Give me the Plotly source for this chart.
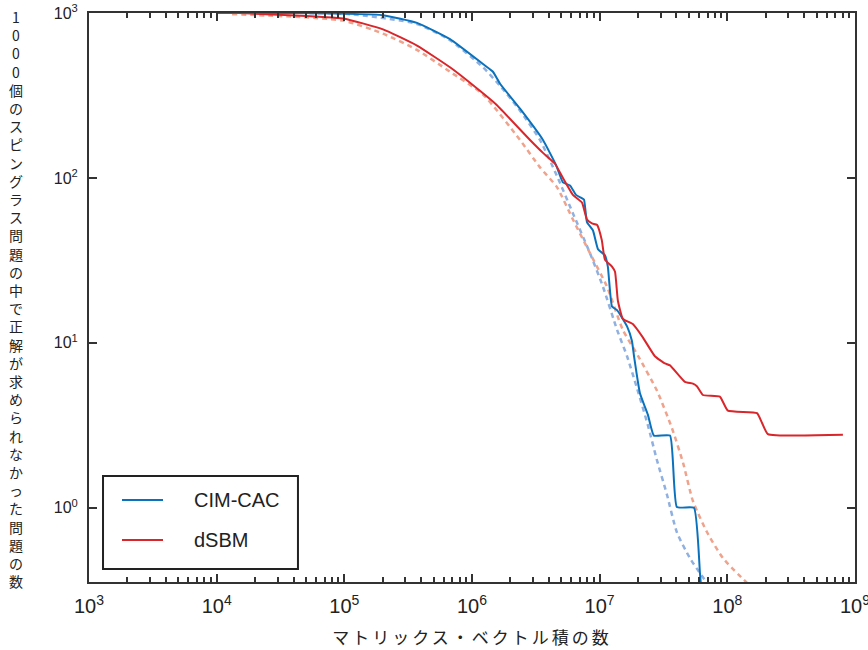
import plotly.graph_objects as go

# ---- data ----
cim_x = [1.0e4, 4.74e4, 2.01e5, 3.71e5, 6.73e5, 1.22e6, 1.46e6, 1.66e6, 2.38e6, 3.60e6,
         4.55e6, 5.16e6, 5.86e6, 6.53e6, 7.14e6, 7.54e6, 7.96e6, 8.87e6, 9.71e6, 1.10e7,
         1.16e7, 1.25e7, 1.37e7, 1.64e7, 1.79e7, 1.86e7, 2.07e7, 2.39e7, 2.66e7, 3.56e7,
         4.03e7, 5.48e7, 6.11e7, 6.30e7]
cim_y = [1000, 1000, 970, 872, 695, 491, 441, 373, 263, 170,
         120, 94, 90, 79, 76, 74, 54, 48, 37, 34,
         29, 16.6, 15.8, 12.6, 10.3, 8.3, 4.95, 3.66, 2.74, 2.74,
         1.01, 1.0, 0.40, 0.30]

sbm_x = [1.0e4, 1.47e4, 9.77e4, 2.01e5, 3.71e5, 6.73e5, 1.22e6, 1.57e6, 2.85e6, 3.60e6,
         4.47e6, 5.16e6, 6.18e6, 7.27e6, 7.96e6, 8.71e6, 9.53e6, 1.04e7, 1.10e7, 1.25e7,
         1.32e7, 1.39e7, 1.52e7, 1.82e7, 2.18e7, 2.71e7, 3.25e7, 3.56e7, 4.66e7, 5.38e7,
         5.78e7, 6.44e7, 8.75e7, 1.01e8, 1.71e8, 1.87e8, 2.08e8, 8.05e8]
sbm_y = [1000, 1000, 927, 797, 635, 469, 326, 276, 170, 142,
         122, 100, 79, 71, 56, 53, 52, 42, 32, 29,
         27, 18, 14, 13, 10.8, 8.3, 7.5, 7.3, 5.8, 5.66,
         5.46, 4.83, 4.72, 3.88, 3.75, 3.28, 2.80, 2.77]

cim_fit_x = [4.5e4, 1.11e5, 3.71e5, 6.73e5, 1.22e6, 1.66e6, 2.38e6, 3.41e6, 4.63e6, 6.18e6,
             8.40e6, 1.06e7, 1.37e7, 1.64e7, 1.96e7, 2.39e7, 2.81e7, 3.37e7, 4.03e7, 5.10e7,
             6.93e7]
cim_fit_y = [1000, 985, 859, 685, 469, 362, 256, 170, 103, 61,
             35, 22, 12.0, 8.3, 5.33, 3.16, 1.95, 1.20, 0.71, 0.495,
             0.35]

sbm_fit_x = [1.32e4, 9.77e4, 2.01e5, 3.71e5, 6.73e5, 1.22e6, 2.38e6, 3.41e6, 4.63e6, 6.18e6,
             8.40e6, 1.14e7, 1.52e7, 2.00e7, 2.81e7, 3.68e7, 4.50e7, 5.38e7, 6.93e7, 9.25e7,
             1.43e8]
sbm_fit_y = [985, 900, 750, 598, 441, 321, 170, 116, 88, 56,
             35, 22, 12.0, 8.34, 5.14, 3.05, 1.88, 1.10, 0.713, 0.495,
             0.35]

names = ["CIM-CAC", "dSBM"]
x_title = "マトリックス・ベクトル積の数"
y_title = "1000個のスピングラス問題の中で正解が求められなかった問題の数"
y_tickvals = [1, 10, 100, 1000]
y_ticktext = ["10<sup>0</sup>", "10<sup>1</sup>", "10<sup>2</sup>", "10<sup>3</sup>"]

BLUE = "#0a72bd"
RED = "#d9262b"
BLUE_L = "#8fb0e0"
RED_L = "#f0a38c"
INK = "#222222"

fig = go.Figure()
fig.add_trace(go.Scatter(x=cim_fit_x, y=cim_fit_y, mode="lines", showlegend=False,
                         line=dict(color=BLUE_L, width=2.5, dash="5px,4px", shape="spline", smoothing=0.6)))
fig.add_trace(go.Scatter(x=sbm_fit_x, y=sbm_fit_y, mode="lines", showlegend=False,
                         line=dict(color=RED_L, width=2.5, dash="5px,4px", shape="spline", smoothing=0.6)))
fig.add_trace(go.Scatter(x=cim_x, y=cim_y, mode="lines", name=names[0], showlegend=False,
                         line=dict(color=BLUE, width=2, shape="spline", smoothing=0.4)))
fig.add_trace(go.Scatter(x=sbm_x, y=sbm_y, mode="lines", name=names[1], showlegend=False,
                         line=dict(color=RED, width=2, shape="spline", smoothing=0.4)))

axis_common = dict(
    type="log", showgrid=False, zeroline=False, showline=True, linecolor="#333",
    linewidth=2, mirror="allticks", ticks="inside", tickcolor="#333", tickwidth=2,
    ticklen=8, exponentformat="power", ticklabelstandoff=6, ticklabeloverflow="allow",
    automargin=False,
    tickfont=dict(family="Liberation Sans, Arial, sans-serif", size=16, color=INK),
)

fig.update_xaxes(**axis_common, range=[3, 9.0005], dtick=1,
                 minor=dict(ticks="inside", ticklen=5, tickcolor="#333", tickwidth=2, showgrid=False),
                 title=dict(text='<span style="letter-spacing:3px">' + x_title + '</span>',
                            font=dict(family="Noto Sans CJK JP", size=17, color=INK),
                            standoff=16))
fig.update_yaxes(**axis_common, range=[-0.45, 3.0005],
                 tickmode="array", tickvals=y_tickvals, ticktext=y_ticktext)

# vertical (stacked) y-axis title
fig.add_annotation(text="<br>".join(list(y_title)), xref="paper", yref="paper",
                   x=-0.095, y=0.4974, xanchor="center", yanchor="middle", showarrow=False,
                   font=dict(family="Noto Sans CJK JP", size=14, color=INK))

# legend box drawn in the style of the reference
fig.add_shape(type="rect", xref="paper", yref="paper", x0=0.0183, x1=0.2728, y0=0.0228, y1=0.1863,
              line=dict(color=INK, width=2), fillcolor="white", layer="above")
leg_colors = [BLUE, RED]
leg_y = [0.1441, 0.0738]
for nm, col, yy in zip(names, leg_colors, leg_y):
    fig.add_shape(type="line", xref="paper", yref="paper", x0=0.0431, x1=0.0966, y0=yy, y1=yy,
                  line=dict(color=col, width=2), layer="above")
    fig.add_annotation(text=nm, xref="paper", yref="paper", x=0.1345, y=yy,
                       xanchor="left", yanchor="middle", showarrow=False,
                       font=dict(family="Liberation Sans, Arial, sans-serif", size=20, color=INK))

fig.update_layout(
    width=868, height=650,
    margin=dict(l=89, r=13, t=13, b=68, autoexpand=False),
    paper_bgcolor="white", plot_bgcolor="white",
    showlegend=False,
)

# remove the default 8px page margin so the figure fills the window exactly
fig.write_html("out.html", config={"displayModeBar": False},
               post_script="document.body.style.margin='0';")
